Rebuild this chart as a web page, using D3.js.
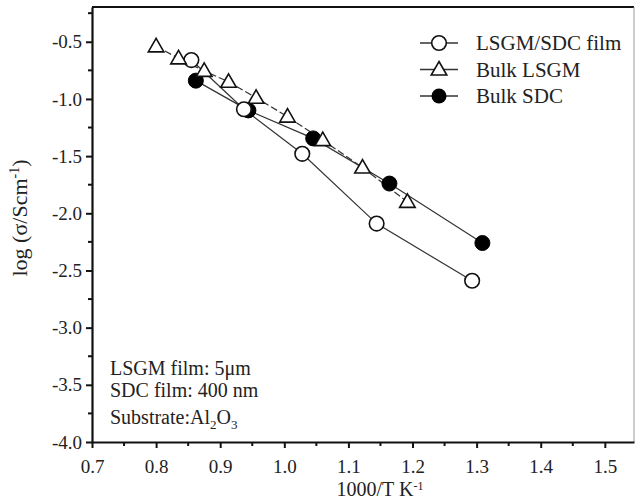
<!DOCTYPE html>
<html>
<head>
<meta charset="utf-8">
<script src="https://cdn.jsdelivr.net/npm/d3@7"></script>
<style>
  body { margin: 0; background: #fff; }
  text { font-family: "Liberation Serif", "Times New Roman", serif; fill: #222; }
</style>
</head>
<body>
<div id="chart"></div>
<script>

// values: x = 1000/T, y = log conductivity
var filmX = [0.855, 0.937, 1.028, 1.144, 1.293];
var filmY = [-0.66, -1.09, -1.48, -2.09, -2.59];

var lsgmX = [0.800, 0.835, 0.875, 0.913, 0.956, 1.005, 1.060, 1.122, 1.192];
var lsgmY = [-0.54, -0.645, -0.755, -0.85, -0.99, -1.155, -1.36, -1.60, -1.90];

var sdcX = [0.862, 0.944, 1.045, 1.164, 1.309];
var sdcY = [-0.84, -1.10, -1.345, -1.74, -2.26];

var xTicks = [0.7, 0.8, 0.9, 1.0, 1.1, 1.2, 1.3, 1.4, 1.5];
var yTicks = [-4.0, -3.5, -3.0, -2.5, -2.0, -1.5, -1.0, -0.5];
var legendNames = ["LSGM/SDC film", "Bulk LSGM", "Bulk SDC"];
var notes = ["LSGM film: 5\u03bcm", "SDC film: 400 nm"];

var width = 636, height = 502;
var plotLeft = 92, plotRight = 634, plotTop = 7, plotBottom = 442;

var svg = d3.select("#chart")
  .append("svg")
  .attr("width", width)
  .attr("height", height);

var x = d3.scaleLinear().domain([0.7, 1.5455]).range([plotLeft, plotRight]);
var y = d3.scaleLinear().domain([-4.0, -0.196]).range([plotBottom, plotTop]);

// minor ticks sit halfway between the labelled ones
var xMinor = d3.range(0.75, 1.55, 0.1);
var yMinor = d3.range(-3.75, -0.2, 0.5);

// frame
svg.append("line").attr("x1", plotLeft).attr("x2", plotRight).attr("y1", plotTop).attr("y2", plotTop)
  .attr("stroke", "#111").attr("stroke-width", 2.2);
svg.append("line").attr("x1", plotRight).attr("x2", plotRight).attr("y1", plotTop).attr("y2", plotBottom)
  .attr("stroke", "#999").attr("stroke-width", 1);

// bottom axis
var xAxis = svg.append("g").attr("transform", "translate(0," + plotBottom + ")");
xAxis.call(d3.axisBottom(x).tickValues(xTicks).tickFormat(d3.format(".1f")).tickSize(6).tickSizeOuter(0));
xAxis.append("g").selectAll("line").data(xMinor).enter().append("line")
  .attr("x1", function(d) { return x(d); }).attr("x2", function(d) { return x(d); })
  .attr("y1", 0).attr("y2", 4).attr("stroke", "#111").attr("stroke-width", 2);

// left axis
var yAxis = svg.append("g").attr("transform", "translate(" + plotLeft + ",0)");
yAxis.call(d3.axisLeft(y).tickValues(yTicks).tickFormat(d3.format(".1f")).tickSize(6).tickSizeOuter(0));
yAxis.append("g").selectAll("line").data(yMinor).enter().append("line")
  .attr("y1", function(d) { return y(d); }).attr("y2", function(d) { return y(d); })
  .attr("x1", 0).attr("x2", -4).attr("stroke", "#111").attr("stroke-width", 2);

svg.selectAll(".domain").attr("stroke", "#111").attr("stroke-width", 2.2);
svg.selectAll(".tick line").attr("stroke", "#111").attr("stroke-width", 2);
svg.selectAll(".tick text")
  .style("font-family", "Liberation Serif, serif")
  .style("font-size", "19px").attr("fill", "#222");
xAxis.selectAll(".tick text").attr("dy", "1.15em");
yAxis.selectAll(".tick text").attr("x", -10).text(function(d) { return d3.format(".1f")(d).replace("\u2212", "-"); });

// axis titles
var xl = svg.append("text").attr("x", 380).attr("y", 496).attr("text-anchor", "middle")
  .style("font-size", "20px").text("1000/T K");
xl.append("tspan").attr("dy", -6).style("font-size", "12px").text("-1");

var yl = svg.append("text")
  .attr("transform", "translate(27,218) rotate(-90)")
  .attr("text-anchor", "middle").style("font-size", "22px").text("log (\u03c3/Scm");
yl.append("tspan").attr("dy", -8).style("font-size", "14px").text("-1");
yl.append("tspan").attr("dy", 8).text(")");

// series
function pts(xs, ys) { return xs.map(function(v, i) { return [v, ys[i]]; }); }
var line = d3.line().x(function(d) { return x(d[0]); }).y(function(d) { return y(d[1]); });

var film = pts(filmX, filmY), lsgm = pts(lsgmX, lsgmY), sdc = pts(sdcX, sdcY);

svg.append("path").datum(lsgm).attr("d", line).attr("fill", "none")
  .attr("stroke", "#333").attr("stroke-width", 1.2).attr("stroke-dasharray", "7,3");
svg.append("path").datum(sdc).attr("d", line).attr("fill", "none")
  .attr("stroke", "#333").attr("stroke-width", 1.2);
svg.append("path").datum(film).attr("d", line).attr("fill", "none")
  .attr("stroke", "#333").attr("stroke-width", 1.2);

var tri = d3.symbol().type(d3.symbolTriangle).size(105);

svg.selectAll(".sdc").data(sdc).enter().append("circle")
  .attr("cx", function(d) { return x(d[0]); }).attr("cy", function(d) { return y(d[1]); })
  .attr("r", 7.5).attr("fill", "#000").attr("stroke", "#000");
svg.selectAll(".film").data(film).enter().append("circle")
  .attr("cx", function(d) { return x(d[0]); }).attr("cy", function(d) { return y(d[1]); })
  .attr("r", 7.3).attr("fill", "#fff").attr("stroke", "#111").attr("stroke-width", 1.6);
svg.selectAll(".lsgm").data(lsgm).enter().append("path")
  .attr("d", tri)
  .attr("transform", function(d) { return "translate(" + x(d[0]) + "," + (y(d[1]) + 1) + ")"; })
  .attr("fill", "#fff").attr("stroke", "#111").attr("stroke-width", 1.6);

// legend
var legend = svg.append("g").attr("transform", "translate(420,0)");
var rows = legend.selectAll("g").data(legendNames).enter().append("g")
  .attr("transform", function(d, i) { return "translate(0," + (43 + i * 26.5) + ")"; });
rows.append("line").attr("x1", 0).attr("x2", 38).attr("stroke", "#333").attr("stroke-width", 1.4);
rows.each(function(d, i) {
  var g = d3.select(this);
  if (i === 0) g.append("circle").attr("cx", 19).attr("r", 7.3).attr("fill", "#fff").attr("stroke", "#111").attr("stroke-width", 1.6);
  if (i === 1) g.append("path").attr("d", tri).attr("transform", "translate(19,1)").attr("fill", "#fff").attr("stroke", "#111").attr("stroke-width", 1.6);
  if (i === 2) g.append("circle").attr("cx", 19).attr("r", 7.5).attr("fill", "#000");
});
rows.append("text").attr("x", 56).attr("y", 7).style("font-size", "21px").text(function(d) { return d; });

// notes in lower left
svg.selectAll(".note").data(notes).enter().append("text")
  .attr("x", 110).attr("y", function(d, i) { return 375 + i * 22; })
  .style("font-size", "20px").text(function(d) { return d; });
var sub = svg.append("text").attr("x", 110).attr("y", 424).style("font-size", "20px").text("Substrate:Al");
sub.append("tspan").attr("dy", 5).style("font-size", "13px").text("2");
sub.append("tspan").attr("dy", -5).text("O");
sub.append("tspan").attr("dy", 5).style("font-size", "13px").text("3");

</script>
</body>
</html>
